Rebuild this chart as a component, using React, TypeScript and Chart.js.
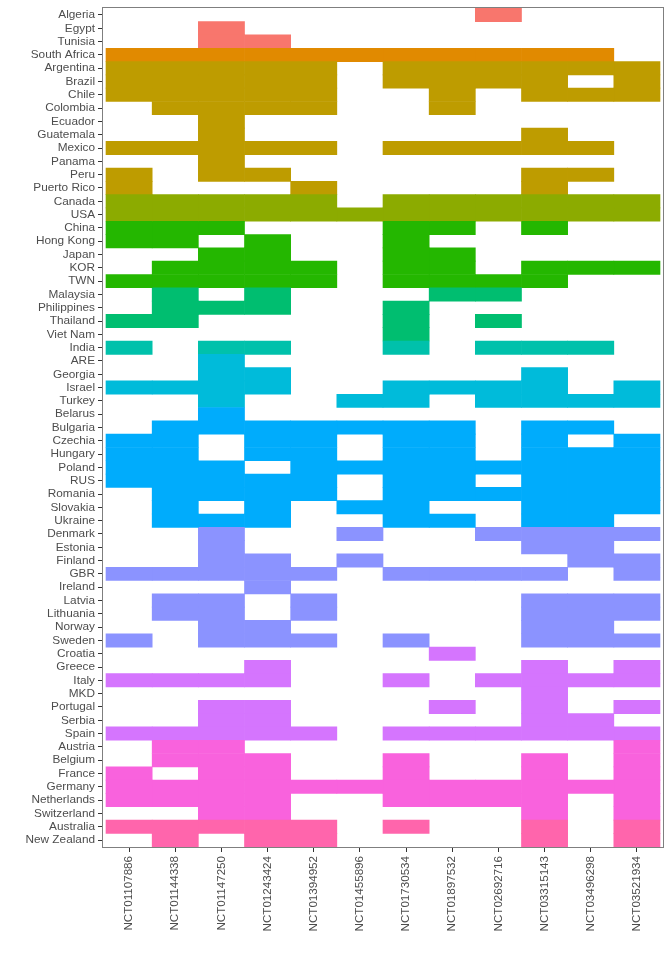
import { useEffect, useRef } from "react";
import { Chart, registerables } from "chart.js";

Chart.register(...registerables);

const countries = [
  "Algeria", "Egypt", "Tunisia", "South Africa", "Argentina", "Brazil", "Chile", "Colombia",
  "Ecuador", "Guatemala", "Mexico", "Panama", "Peru", "Puerto Rico", "Canada", "USA",
  "China", "Hong Kong", "Japan", "KOR", "TWN", "Malaysia", "Philippines", "Thailand",
  "Viet Nam", "India", "ARE", "Georgia", "Israel", "Turkey", "Belarus", "Bulgaria",
  "Czechia", "Hungary", "Poland", "RUS", "Romania", "Slovakia", "Ukraine", "Denmark",
  "Estonia", "Finland", "GBR", "Ireland", "Latvia", "Lithuania", "Norway", "Sweden",
  "Croatia", "Greece", "Italy", "MKD", "Portugal", "Serbia", "Spain", "Austria",
  "Belgium", "France", "Germany", "Netherlands", "Switzerland", "Australia", "New Zealand",
];

const trials = [
  "NCT01107886", "NCT01144338", "NCT01147250", "NCT01243424", "NCT01394952", "NCT01455896",
  "NCT01730534", "NCT01897532", "NCT02692716", "NCT03315143", "NCT03496298", "NCT03521934",
];

const regions = [
  "North Africa", "South Africa", "Latin America", "North America", "East Asia",
  "Southeast Asia", "South Asia", "Middle East", "Eastern Europe", "Northern Europe",
  "Southern Europe", "Western Europe", "Oceania",
];

const regionColors = [
  "#F8766D", "#E18A00", "#BE9C00", "#8CAB00", "#24B700", "#00BE70", "#00C1AB",
  "#00BBDA", "#00ACFC", "#8B93FF", "#D575FE", "#F962DD", "#FF65AC",
];

// region index of each country (same order as countries)
const countryRegion = [
  0, 0, 0, 1, 2, 2, 2, 2,
  2, 2, 2, 2, 2, 2, 3, 3,
  4, 4, 4, 4, 4, 5, 5, 5,
  5, 6, 7, 7, 7, 7, 8, 8,
  8, 8, 8, 8, 8, 8, 8, 9,
  9, 9, 9, 9, 9, 9, 9, 9,
  10, 10, 10, 10, 10, 10, 10, 11,
  11, 11, 11, 11, 11, 12, 12,
];

// participation of each country in each trial (columns follow trials order)
const participation = [
  "000000001000", // Algeria
  "001000000000", // Egypt
  "001100000000", // Tunisia
  "111111111110", // South Africa
  "111110111111", // Argentina
  "111110111101", // Brazil
  "111110010111", // Chile
  "011110010000", // Colombia
  "001000000000", // Ecuador
  "001000000100", // Guatemala
  "111110111110", // Mexico
  "001000000000", // Panama
  "101100000110", // Peru
  "100010000100", // Puerto Rico
  "111110111111", // Canada
  "111111111111", // USA
  "111000110100", // China
  "110100100000", // Hong Kong
  "001100110000", // Japan
  "011110110111", // KOR
  "111110111100", // TWN
  "010100011000", // Malaysia
  "011100100000", // Philippines
  "110000101000", // Thailand
  "000000100000", // Viet Nam
  "101100101110", // India
  "001000000000", // ARE
  "001100000100", // Georgia
  "111100111101", // Israel
  "001001101111", // Turkey
  "001000000000", // Belarus
  "011111110110", // Bulgaria
  "110110110101", // Czechia
  "110110110111", // Hungary
  "111011111111", // Poland
  "111110110111", // RUS
  "011110111111", // Romania
  "010101100111", // Slovakia
  "011100110110", // Ukraine
  "001001001111", // Denmark
  "001000000110", // Estonia
  "001101000011", // Finland
  "111110111101", // GBR
  "000100000000", // Ireland
  "011010000111", // Latvia
  "011010000111", // Lithuania
  "001100000110", // Norway
  "101110100111", // Sweden
  "000000010000", // Croatia
  "000100000101", // Greece
  "111100101111", // Italy
  "000000000100", // MKD
  "001100010101", // Portugal
  "001100000110", // Serbia
  "111110111111", // Spain
  "011000000001", // Austria
  "011100100101", // Belgium
  "101100100101", // France
  "111111111111", // Germany
  "111100111101", // Netherlands
  "001100000101", // Switzerland
  "111110100101", // Australia
  "010110000101", // New Zealand
];

const FONT = "'Liberation Sans', Arial, Helvetica, sans-serif";

export default function App() {
  const ref = useRef<HTMLCanvasElement>(null);

  useEffect(() => {
    document.body.style.margin = "0";
    const canvas = ref.current;
    if (!canvas) return;

    const datasets = trials.map((t, j) => {
      const pts: { x: number[]; y: number }[] = [];
      const cols: string[] = [];
      countries.forEach((_, i) => {
        if (participation[i][j] === "1") {
          pts.push({ x: [j, j + 1], y: i });
          cols.push(regionColors[countryRegion[i]]);
        }
      });
      return {
        label: t,
        data: pts,
        backgroundColor: cols,
        borderWidth: 0,
        grouped: false,
        barPercentage: 1,
        categoryPercentage: 1,
      };
    });

    const panelBorder = {
      id: "panelBorder",
      afterDraw(chart: any) {
        const { ctx, chartArea } = chart;
        ctx.save();
        ctx.strokeStyle = "#7f7f7f";
        ctx.lineWidth = 1;
        ctx.strokeRect(
          Math.round(chartArea.left) + 0.5,
          Math.round(chartArea.top) + 0.5,
          Math.round(chartArea.right - chartArea.left) - 1,
          Math.round(chartArea.bottom - chartArea.top) - 1
        );
        ctx.restore();
      },
    };

    const bg = {
      id: "bg",
      beforeDraw(chart: any) {
        const { ctx, width, height } = chart;
        ctx.save();
        ctx.fillStyle = "#ffffff";
        ctx.fillRect(0, 0, width, height);
        ctx.restore();
      },
    };

    const chart = new Chart(canvas, {
      type: "bar",
      data: { datasets: datasets as any },
      options: {
        indexAxis: "y",
        responsive: false,
        animation: false,
        devicePixelRatio: 1,
        layout: { padding: { top: 7, right: 8, left: 0, bottom: 0 } },
        plugins: { legend: { display: false }, tooltip: { enabled: false } },
        scales: {
          x: {
            type: "linear",
            min: -0.087,
            max: 12.087,
            offset: false,
            border: { display: false },
            grid: {
              display: true,
              offset: false,
              drawOnChartArea: false,
              drawTicks: true,
              tickLength: 4,
              tickColor: "#333333",
            },
            afterBuildTicks: (s: any) => {
              s.ticks = trials.map((_, j) => ({ value: j + 0.5 }));
            },
            afterFit: (s: any) => {
              s.height = 112;
            },
            ticks: {
              autoSkip: false,
              minRotation: 90,
              maxRotation: 90,
              padding: 4,
              color: "#4d4d4d",
              font: { family: FONT, size: 11.6 },
              callback: (v: any) => trials[Math.floor(Number(v))],
            },
          },
          y: {
            type: "linear",
            reverse: true,
            min: -0.6,
            max: 62.6,
            offset: false,
            border: { display: false },
            grid: {
              display: true,
              offset: false,
              drawOnChartArea: false,
              drawTicks: true,
              tickLength: 4,
              tickColor: "#333333",
            },
            afterBuildTicks: (s: any) => {
              s.ticks = countries.map((_, i) => ({ value: i }));
            },
            afterFit: (s: any) => {
              s.width = 102;
              s.paddingTop = 0;
              s.paddingBottom = 0;
            },
            ticks: {
              autoSkip: false,
              padding: 3,
              color: "#4d4d4d",
              font: { family: FONT, size: 11.8, lineHeight: 1 },
              callback: (v: any) => countries[Math.round(Number(v))],
            },
          },
        },
      },
      plugins: [bg, panelBorder],
    });

    return () => chart.destroy();
  }, []);

  return (
    <div style={{ width: 672, height: 960 }}>
      <canvas ref={ref} width={672} height={960} style={{ display: "block" }} />
    </div>
  );
}
